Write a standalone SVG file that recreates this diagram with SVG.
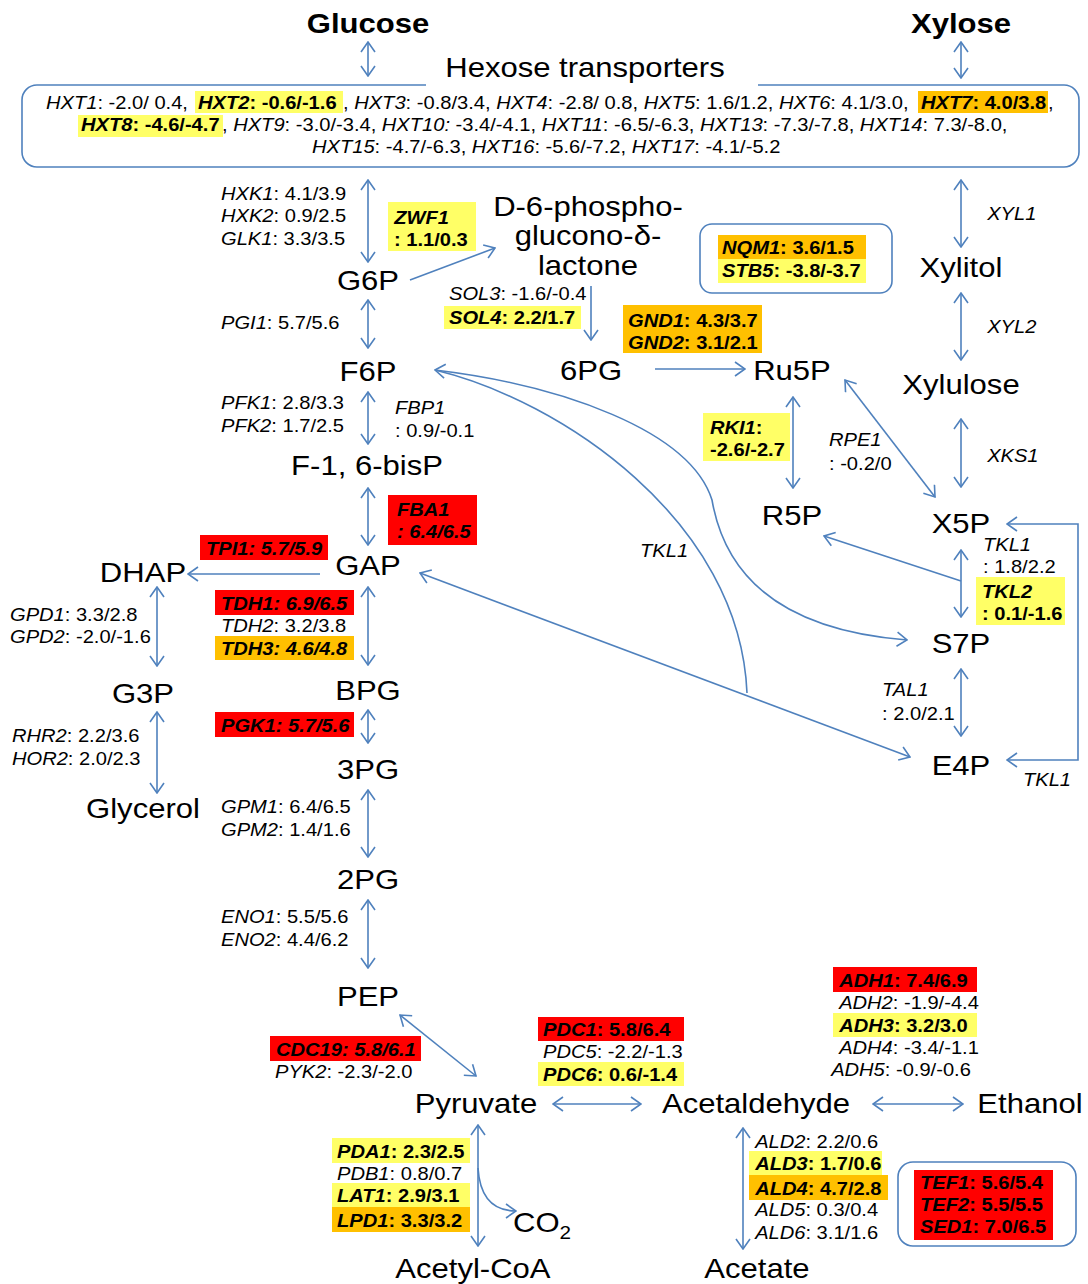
<svg xmlns="http://www.w3.org/2000/svg" width="1088" height="1284" viewBox="0 0 1088 1284">
<defs>
<style>
text{font-family:"Liberation Sans",Arial,sans-serif;fill:#000;transform-box:fill-box;transform:scaleX(1.15)}
.m{font-size:27px;text-anchor:middle;transform-origin:center}
.tb{font-weight:bold}
.g{font-size:17.5px;transform-origin:left center}
.gb{font-size:17.5px;font-weight:bold;transform-origin:left center}
.i{font-style:italic}
.c{fill:none;stroke:#4F81BD;stroke-width:1.6}
.d{marker-start:url(#ah);marker-end:url(#ah)}
.e{marker-end:url(#ah)}
.s{marker-start:url(#ah)}
.box{fill:none;stroke:#4F81BD;stroke-width:1.6}
.y{fill:#FFFF66}
.o{fill:#FFC000}
.r{fill:#FF0000}
</style>
<marker id="ah" viewBox="0 0 12 16" refX="11" refY="8" markerWidth="12" markerHeight="16" markerUnits="userSpaceOnUse" orient="auto-start-reverse">
<path d="M1,1 L11,8 L1,15" fill="none" stroke="#4F81BD" stroke-width="1.6"/>
</marker>
</defs>
<rect width="1088" height="1284" fill="#fff"/>

<g id="connectors">
<path class="c d" d="M368,42 V76"/>
<path class="c d" d="M961,42 V78"/>
<path class="c d" d="M368,180 V262"/>
<path class="c e" d="M410,280 L495,248"/>
<path class="c e" d="M591,286 V340"/>
<path class="c e" d="M655,369 H745"/>
<path class="c d" d="M961,180 V247"/>
<path class="c d" d="M961,293 V360"/>
<path class="c d" d="M961,419 V487"/>
<path class="c d" d="M793,397 V488"/>
<path class="c d" d="M845,380 L935,497"/>
<path class="c d" d="M961,550 V617"/>
<path class="c e" d="M961,581 L824,536"/>
<path class="c d" d="M961,669 V736"/>
<path class="c d" d="M1007,524 H1078 V760 H1007"/>
<path class="c d" d="M368,300 V348"/>
<path class="c d" d="M368,392 V444"/>
<path class="c d" d="M368,488 V545"/>
<path class="c e" d="M320,574 H188"/>
<path class="c d" d="M157,587 V666"/>
<path class="c d" d="M157,712 V793"/>
<path class="c d" d="M368,587 V665"/>
<path class="c d" d="M368,710 V743"/>
<path class="c d" d="M368,790 V857"/>
<path class="c d" d="M368,900 V968"/>
<path class="c d" d="M400,1015 L476,1076"/>
<path class="c d" d="M553,1104 H641"/>
<path class="c d" d="M873,1104 H963"/>
<path class="c d" d="M478,1125 V1246"/>
<path class="c e" d="M478,1168 C480,1200 495,1211 516,1211"/>
<path class="c d" d="M743,1128 V1249"/>
<path class="c d" d="M420,573 L910,757"/>
<path class="c d" d="M435,370 C560,385 690,430 712,500 C725,575 780,630 907,640"/>
<path class="c" d="M435,370 C560,400 740,520 747,693"/>
</g>

<g id="glucose"><text class="m tb" x="368" y="33">Glucose</text></g>
<g id="xylose"><text class="m tb" x="961" y="33">Xylose</text></g>

<g id="hexose-transporters">
<path class="box" d="M426,85 H37 A15,15 0 0 0 22,100 V152 A15,15 0 0 0 37,167 H1064 A15,15 0 0 0 1079,152 V100 A15,15 0 0 0 1064,85 H758"/>
<text class="m" x="585" y="77">Hexose transporters</text>
<rect class="y" x="195" y="91" width="148" height="22"/>
<rect class="o" x="918" y="91" width="130" height="22"/>
<rect class="y" x="78" y="115" width="145" height="22"/>
<text class="g" x="46" y="109"><tspan class="i">HXT1</tspan>: -2.0/ 0.4, </text>
<text class="gb" x="198" y="109"><tspan class="i">HXT2</tspan>: -0.6/-1.6</text>
<text class="g" x="343" y="109">, <tspan class="i">HXT3</tspan>: -0.8/3.4, <tspan class="i">HXT4</tspan>: -2.8/ 0.8, <tspan class="i">HXT5</tspan>: 1.6/1.2, <tspan class="i">HXT6</tspan>: 4.1/3.0, </text>
<text class="gb" x="921" y="109"><tspan class="i">HXT7</tspan>: 4.0/3.8</text>
<text class="g" x="1048" y="109">,</text>
<text class="gb" x="81" y="131"><tspan class="i">HXT8</tspan>: -4.6/-4.7</text>
<text class="g" x="222" y="131">, <tspan class="i">HXT9</tspan>: -3.0/-3.4, <tspan class="i">HXT10:</tspan> -3.4/-4.1, <tspan class="i">HXT11</tspan>: -6.5/-6.3, <tspan class="i">HXT13</tspan>: -7.3/-7.8, <tspan class="i">HXT14</tspan>: 7.3/-8.0,</text>
<text class="g" x="312" y="153"><tspan class="i">HXT15</tspan>: -4.7/-6.3, <tspan class="i">HXT16</tspan>: -5.6/-7.2, <tspan class="i">HXT17</tspan>: -4.1/-5.2</text>
</g>

<g id="G6P"><text class="m" x="368" y="290">G6P</text></g>
<g id="lactone">
<text class="m" x="588" y="216">D-6-phospho-</text>
<text class="m" x="588" y="245">glucono-δ-</text>
<text class="m" x="588" y="275">lactone</text>
</g>
<g id="Xylitol"><text class="m" x="961" y="277">Xylitol</text></g>
<g id="F6P"><text class="m" x="368" y="381">F6P</text></g>
<g id="6PG"><text class="m" x="591" y="380">6PG</text></g>
<g id="Ru5P"><text class="m" x="792" y="380">Ru5P</text></g>
<g id="Xylulose"><text class="m" x="961" y="394">Xylulose</text></g>
<g id="F16BP"><text class="m" x="367" y="475">F-1, 6-bisP</text></g>
<g id="R5P"><text class="m" x="792" y="525">R5P</text></g>
<g id="X5P"><text class="m" x="961" y="533">X5P</text></g>
<g id="DHAP"><text class="m" x="143" y="582">DHAP</text></g>
<g id="GAP"><text class="m" x="368" y="575">GAP</text></g>
<g id="S7P"><text class="m" x="961" y="653">S7P</text></g>
<g id="G3P"><text class="m" x="143" y="703">G3P</text></g>
<g id="BPG"><text class="m" x="368" y="700">BPG</text></g>
<g id="3PG"><text class="m" x="368" y="779">3PG</text></g>
<g id="E4P"><text class="m" x="961" y="775">E4P</text></g>
<g id="Glycerol"><text class="m" x="143" y="818">Glycerol</text></g>
<g id="2PG"><text class="m" x="368" y="889">2PG</text></g>
<g id="PEP"><text class="m" x="368" y="1006">PEP</text></g>
<g id="Pyruvate"><text class="m" x="476" y="1113">Pyruvate</text></g>
<g id="Acetaldehyde"><text class="m" x="756" y="1113">Acetaldehyde</text></g>
<g id="Ethanol"><text class="m" x="1030" y="1113">Ethanol</text></g>
<g id="CO2"><text class="m" x="542" y="1232">CO<tspan font-size="18" dy="7">2</tspan></text></g>
<g id="AcetylCoA"><text class="m" x="473" y="1278">Acetyl-CoA</text></g>
<g id="Acetate"><text class="m" x="757" y="1278">Acetate</text></g>

<g id="lbl-hxk">
<text class="g" x="221" y="200"><tspan class="i">HXK1</tspan>: 4.1/3.9</text>
<text class="g" x="221" y="222"><tspan class="i">HXK2</tspan>: 0.9/2.5</text>
<text class="g" x="221" y="245"><tspan class="i">GLK1</tspan>: 3.3/3.5</text>
</g>
<g id="lbl-zwf1">
<rect class="y" x="388" y="202" width="88" height="49"/>
<text class="gb" x="394" y="224"><tspan class="i">ZWF1</tspan></text>
<text class="gb" x="394" y="246">: 1.1/0.3</text>
</g>
<g id="lbl-xyl">
<text class="g i" x="987" y="220">XYL1</text>
<text class="g i" x="987" y="333">XYL2</text>
<text class="g i" x="987" y="462">XKS1</text>
</g>
<g id="lbl-sol">
<text class="g" x="449" y="300"><tspan class="i">SOL3</tspan>: -1.6/-0.4</text>
<rect class="y" x="444" y="306" width="137" height="23"/>
<text class="gb" x="449" y="324"><tspan class="i">SOL4</tspan>: 2.2/1.7</text>
</g>
<g id="lbl-gnd">
<rect class="o" x="623" y="305" width="139" height="48"/>
<text class="gb" x="628" y="327"><tspan class="i">GND1</tspan>: 4.3/3.7</text>
<text class="gb" x="628" y="349"><tspan class="i">GND2</tspan>: 3.1/2.1</text>
</g>
<g id="lbl-nqm1">
<rect class="box" x="700" y="224" width="192" height="69" rx="12"/>
<rect class="o" x="718" y="235" width="148" height="24"/>
<rect class="y" x="718" y="259" width="148" height="24"/>
<text class="gb" x="722" y="254"><tspan class="i">NQM1</tspan>: 3.6/1.5</text>
<text class="gb" x="722" y="277"><tspan class="i">STB5</tspan>: -3.8/-3.7</text>
</g>
<g id="lbl-pgi1"><text class="g" x="221" y="329"><tspan class="i">PGI1</tspan>: 5.7/5.6</text></g>
<g id="lbl-pfk">
<text class="g" x="221" y="409"><tspan class="i">PFK1</tspan>: 2.8/3.3</text>
<text class="g" x="221" y="432"><tspan class="i">PFK2</tspan>: 1.7/2.5</text>
</g>
<g id="lbl-fbp1">
<text class="g i" x="395" y="414">FBP1</text>
<text class="g" x="395" y="437">: 0.9/-0.1</text>
</g>
<g id="lbl-rki1">
<rect class="y" x="703" y="413" width="87" height="48"/>
<text class="gb" x="710" y="434"><tspan class="i">RKI1</tspan>:</text>
<text class="gb" x="710" y="456">-2.6/-2.7</text>
</g>
<g id="lbl-rpe1">
<text class="g i" x="829" y="446">RPE1</text>
<text class="g" x="829" y="470">: -0.2/0</text>
</g>
<g id="lbl-fba1">
<rect class="r" x="388" y="495" width="89" height="50"/>
<text class="gb i" x="397" y="516">FBA1</text>
<text class="gb i" x="397" y="538">: 6.4/6.5</text>
</g>
<g id="lbl-tpi1">
<rect class="r" x="200" y="535" width="128" height="25"/>
<text class="gb i" x="206" y="555">TPI1: 5.7/5.9</text>
</g>
<g id="lbl-tkl1-mid"><text class="g i" x="640" y="557">TKL1</text></g>
<g id="lbl-tkl-right">
<text class="g i" x="983" y="551">TKL1</text>
<text class="g" x="983" y="573">: 1.8/2.2</text>
<rect class="y" x="976" y="577" width="89" height="48"/>
<text class="gb i" x="982" y="598">TKL2</text>
<text class="gb" x="982" y="620">: 0.1/-1.6</text>
</g>
<g id="lbl-gpd">
<text class="g" x="10" y="621"><tspan class="i">GPD1</tspan>: 3.3/2.8</text>
<text class="g" x="10" y="643"><tspan class="i">GPD2</tspan>: -2.0/-1.6</text>
</g>
<g id="lbl-tdh">
<rect class="r" x="215" y="590" width="139" height="25"/>
<text class="gb i" x="221" y="610">TDH1: 6.9/6.5</text>
<text class="g" x="221" y="632"><tspan class="i">TDH2</tspan>: 3.2/3.8</text>
<rect class="o" x="215" y="636" width="139" height="24"/>
<text class="gb i" x="221" y="655">TDH3: 4.6/4.8</text>
</g>
<g id="lbl-tal1">
<text class="g i" x="882" y="696">TAL1</text>
<text class="g" x="882" y="720">: 2.0/2.1</text>
</g>
<g id="lbl-pgk1">
<rect class="r" x="215" y="712" width="139" height="25"/>
<text class="gb i" x="221" y="732">PGK1: 5.7/5.6</text>
</g>
<g id="lbl-rhr2">
<text class="g" x="12" y="742"><tspan class="i">RHR2</tspan>: 2.2/3.6</text>
<text class="g" x="12" y="765"><tspan class="i">HOR2</tspan>: 2.0/2.3</text>
</g>
<g id="lbl-tkl1-low"><text class="g i" x="1023" y="786">TKL1</text></g>
<g id="lbl-gpm">
<text class="g" x="221" y="813"><tspan class="i">GPM1</tspan>: 6.4/6.5</text>
<text class="g" x="221" y="836"><tspan class="i">GPM2</tspan>: 1.4/1.6</text>
</g>
<g id="lbl-eno">
<text class="g" x="221" y="923"><tspan class="i">ENO1</tspan>: 5.5/5.6</text>
<text class="g" x="221" y="946"><tspan class="i">ENO2</tspan>: 4.4/6.2</text>
</g>
<g id="lbl-adh">
<rect class="r" x="833" y="967" width="144" height="25"/>
<text class="gb" x="839" y="987"><tspan class="i">ADH1</tspan>: 7.4/6.9</text>
<text class="g" x="839" y="1009"><tspan class="i">ADH2</tspan>: -1.9/-4.4</text>
<rect class="y" x="833" y="1013" width="144" height="24"/>
<text class="gb" x="839" y="1032"><tspan class="i">ADH3</tspan>: 3.2/3.0</text>
<text class="g" x="839" y="1054"><tspan class="i">ADH4</tspan>: -3.4/-1.1</text>
<text class="g" x="831" y="1076"><tspan class="i">ADH5</tspan>: -0.9/-0.6</text>
</g>
<g id="lbl-pdc">
<rect class="r" x="538" y="1017" width="146" height="24"/>
<text class="gb" x="543" y="1036"><tspan class="i">PDC1</tspan>: 5.8/6.4</text>
<text class="g" x="543" y="1058"><tspan class="i">PDC5</tspan>: -2.2/-1.3</text>
<rect class="y" x="538" y="1062" width="146" height="24"/>
<text class="gb" x="543" y="1081"><tspan class="i">PDC6</tspan>: 0.6/-1.4</text>
</g>
<g id="lbl-cdc19">
<rect class="r" x="270" y="1036" width="151" height="25"/>
<text class="gb i" x="276" y="1056">CDC19: 5.8/6.1</text>
<text class="g" x="275" y="1078"><tspan class="i">PYK2</tspan>: -2.3/-2.0</text>
</g>
<g id="lbl-pda">
<rect class="y" x="332" y="1138" width="138" height="25"/>
<text class="gb" x="337" y="1158"><tspan class="i">PDA1</tspan>: 2.3/2.5</text>
<text class="g" x="337" y="1180"><tspan class="i">PDB1</tspan>: 0.8/0.7</text>
<rect class="y" x="332" y="1183" width="138" height="24"/>
<text class="gb" x="337" y="1202"><tspan class="i">LAT1</tspan>: 2.9/3.1</text>
<rect class="o" x="332" y="1207" width="138" height="25"/>
<text class="gb" x="337" y="1227"><tspan class="i">LPD1</tspan>: 3.3/3.2</text>
</g>
<g id="lbl-ald">
<text class="g" x="755" y="1148"><tspan class="i">ALD2</tspan>: 2.2/0.6</text>
<rect class="y" x="749" y="1151" width="133" height="24"/>
<text class="gb" x="755" y="1170"><tspan class="i">ALD3</tspan>: 1.7/0.6</text>
<rect class="o" x="749" y="1175" width="139" height="25"/>
<text class="gb" x="755" y="1195"><tspan class="i">ALD4</tspan>: 4.7/2.8</text>
<text class="g" x="755" y="1216"><tspan class="i">ALD5</tspan>: 0.3/0.4</text>
<text class="g" x="755" y="1239"><tspan class="i">ALD6</tspan>: 3.1/1.6</text>
</g>
<g id="lbl-tef">
<rect class="box" x="898" y="1162" width="178" height="84" rx="15"/>
<rect class="r" x="914" y="1170" width="139" height="70"/>
<text class="gb" x="920" y="1189"><tspan class="i">TEF1</tspan>: 5.6/5.4</text>
<text class="gb" x="920" y="1211"><tspan class="i">TEF2</tspan>: 5.5/5.5</text>
<text class="gb" x="920" y="1233"><tspan class="i">SED1</tspan>: 7.0/6.5</text>
</g>
</svg>
